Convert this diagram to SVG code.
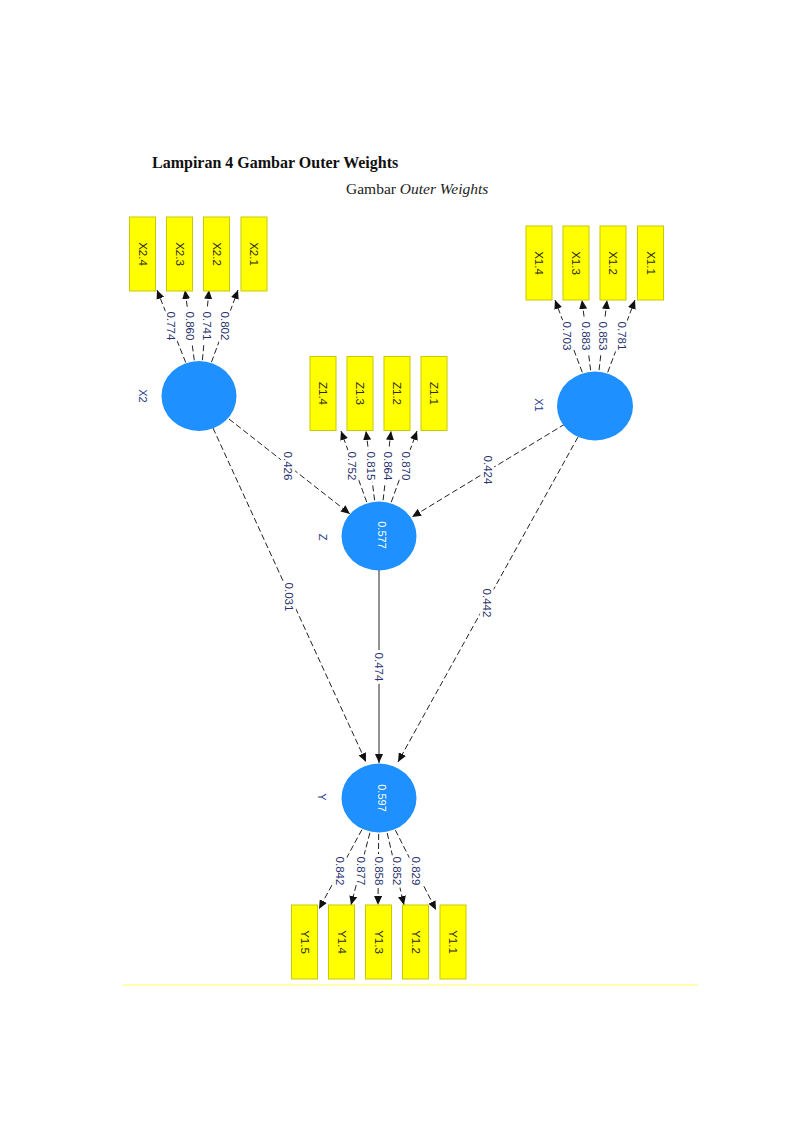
<svg xmlns="http://www.w3.org/2000/svg" width="800" height="1132" viewBox="0 0 800 1132">
<style>
.ind rect{fill:#ffff00;stroke:#c9c900;stroke-width:1}
.ind text{font-family:"Liberation Sans",Arial,sans-serif;font-size:11.5px;fill:#2a2a10;text-anchor:middle;dominant-baseline:central}
.lv ellipse{fill:#1e90ff}
.lv text.v{font-family:"Liberation Sans",Arial,sans-serif;font-size:11px;fill:#ffffff;text-anchor:middle;dominant-baseline:central}
.lv text.n{font-family:"Liberation Sans",Arial,sans-serif;font-size:11px;fill:#2b3a8c;text-anchor:middle;dominant-baseline:central}
.cn line{stroke:#222;stroke-width:1;stroke-dasharray:6,3;marker-end:url(#ah)}
.cn line.s{stroke-dasharray:none}
.cn text{font-family:"Liberation Sans",Arial,sans-serif;font-size:11.5px;fill:#28306e;text-anchor:middle;dominant-baseline:central;stroke:#fff;stroke-width:6;stroke-linejoin:round;paint-order:stroke}
.t1{font-family:"Liberation Serif","Times New Roman",serif;font-size:16px;font-weight:bold;fill:#111}
.t2{font-family:"Liberation Serif","Times New Roman",serif;font-size:15.5px;fill:#222}
</style>
<defs>
<marker id="ah" markerUnits="userSpaceOnUse" markerWidth="10" markerHeight="8" refX="9" refY="4" orient="auto">
<path d="M0,0 L9,4 L0,8 z" fill="#111"/>
</marker>
</defs>
<rect width="800" height="1132" fill="#fff"/>
<text class="t1" x="152" y="168">Lampiran 4 Gambar Outer Weights</text>
<text class="t2" x="346" y="194">Gambar <tspan font-style="italic">Outer Weights</tspan></text>
<line x1="123" y1="985" x2="698" y2="985" stroke="#ffffb0" stroke-width="2"/>

<g id="connectors" class="cn">
<line x1="199" y1="396" x2="157" y2="290"/>
<line x1="199" y1="396" x2="185" y2="290"/>
<line x1="199" y1="396" x2="209" y2="290"/>
<line x1="199" y1="396" x2="238" y2="290"/>
<line x1="595" y1="406" x2="555" y2="300"/>
<line x1="595" y1="406" x2="582" y2="300"/>
<line x1="595" y1="406" x2="607" y2="300"/>
<line x1="595" y1="406" x2="635" y2="300"/>
<line x1="379" y1="536" x2="341" y2="431"/>
<line x1="379" y1="536" x2="366" y2="431"/>
<line x1="379" y1="536" x2="391" y2="431"/>
<line x1="379" y1="536" x2="417" y2="431"/>
<line x1="379" y1="798" x2="319" y2="909"/>
<line x1="379" y1="798" x2="351" y2="905"/>
<line x1="379" y1="798" x2="378" y2="905"/>
<line x1="379" y1="798" x2="404" y2="905"/>
<line x1="379" y1="798" x2="436" y2="910"/>
<line x1="229" y1="419" x2="350" y2="514"/>
<line x1="565" y1="424" x2="412" y2="517"/>
<line x1="213" y1="428" x2="366" y2="762"/>
<line x1="578" y1="437" x2="398" y2="762"/>
<line class="s" x1="379" y1="570" x2="379" y2="763"/>
<text transform="translate(171,326) rotate(90)">0.774</text>
<text transform="translate(190,326) rotate(90)">0.860</text>
<text transform="translate(207,326) rotate(90)">0.741</text>
<text transform="translate(225,326) rotate(90)">0.802</text>
<text transform="translate(567,336) rotate(90)">0.703</text>
<text transform="translate(586,336) rotate(90)">0.883</text>
<text transform="translate(603,336) rotate(90)">0.853</text>
<text transform="translate(622,336) rotate(90)">0.781</text>
<text transform="translate(352,466) rotate(90)">0.752</text>
<text transform="translate(371,466) rotate(90)">0.815</text>
<text transform="translate(388,466) rotate(90)">0.864</text>
<text transform="translate(406,466) rotate(90)">0.870</text>
<text transform="translate(340,871) rotate(90)">0.842</text>
<text transform="translate(361,871) rotate(90)">0.877</text>
<text transform="translate(379,871) rotate(90)">0.858</text>
<text transform="translate(397,871) rotate(90)">0.852</text>
<text transform="translate(416,871) rotate(90)">0.829</text>
<text transform="translate(288,466) rotate(90)">0.426</text>
<text transform="translate(488,470) rotate(90)">0.424</text>
<text transform="translate(289,597) rotate(90)">0.031</text>
<text transform="translate(487,603) rotate(90)">0.442</text>
<text transform="translate(379,667) rotate(90)">0.474</text>
</g>

<g id="X2-indicators" class="ind">
<g id="X2.4"><rect x="129.5" y="217" width="26" height="74"/><text transform="translate(142.5,254) rotate(90)">X2.4</text></g>
<g id="X2.3"><rect x="166.5" y="217" width="26" height="74"/><text transform="translate(179.5,254) rotate(90)">X2.3</text></g>
<g id="X2.2"><rect x="203.5" y="217" width="26" height="74"/><text transform="translate(216.5,254) rotate(90)">X2.2</text></g>
<g id="X2.1"><rect x="241" y="217" width="26" height="74"/><text transform="translate(254,254) rotate(90)">X2.1</text></g>
</g>
<g id="X1-indicators" class="ind">
<g id="X1.4"><rect x="526" y="226" width="26" height="74"/><text transform="translate(539,263) rotate(90)">X1.4</text></g>
<g id="X1.3"><rect x="563" y="226" width="26" height="74"/><text transform="translate(576,263) rotate(90)">X1.3</text></g>
<g id="X1.2"><rect x="600" y="226" width="26" height="74"/><text transform="translate(613,263) rotate(90)">X1.2</text></g>
<g id="X1.1"><rect x="637.5" y="226" width="26" height="74"/><text transform="translate(650.5,263) rotate(90)">X1.1</text></g>
</g>
<g id="Z-indicators" class="ind">
<g id="Z1.4"><rect x="310" y="356.5" width="26" height="74"/><text transform="translate(323,393.5) rotate(90)">Z1.4</text></g>
<g id="Z1.3"><rect x="347" y="356.5" width="26" height="74"/><text transform="translate(360,393.5) rotate(90)">Z1.3</text></g>
<g id="Z1.2"><rect x="384" y="356.5" width="26" height="74"/><text transform="translate(397,393.5) rotate(90)">Z1.2</text></g>
<g id="Z1.1"><rect x="421" y="356.5" width="26" height="74"/><text transform="translate(434,393.5) rotate(90)">Z1.1</text></g>
</g>
<g id="Y-indicators" class="ind">
<g id="Y1.5"><rect x="291.5" y="905" width="26" height="74"/><text transform="translate(304.5,942) rotate(90)">Y1.5</text></g>
<g id="Y1.4"><rect x="328.5" y="905" width="26" height="74"/><text transform="translate(341.5,942) rotate(90)">Y1.4</text></g>
<g id="Y1.3"><rect x="365.5" y="905" width="26" height="74"/><text transform="translate(378.5,942) rotate(90)">Y1.3</text></g>
<g id="Y1.2"><rect x="402.5" y="905" width="26" height="74"/><text transform="translate(415.5,942) rotate(90)">Y1.2</text></g>
<g id="Y1.1"><rect x="440" y="905" width="26" height="74"/><text transform="translate(453,942) rotate(90)">Y1.1</text></g>
</g>

<g id="X2" class="lv"><ellipse cx="199" cy="396" rx="37.5" ry="35"/><text class="n" transform="translate(143,396) rotate(90)">X2</text></g>
<g id="X1" class="lv"><ellipse cx="595" cy="406" rx="38" ry="34.5"/><text class="n" transform="translate(539,405) rotate(90)">X1</text></g>
<g id="Z" class="lv"><ellipse cx="379" cy="536" rx="37.5" ry="34.5"/><text class="v" transform="translate(382,535) rotate(90)">0.577</text><text class="n" transform="translate(323,537) rotate(90)">Z</text></g>
<g id="Y" class="lv"><ellipse cx="379" cy="798" rx="37.5" ry="34.5"/><text class="v" transform="translate(382,798) rotate(90)">0.597</text><text class="n" transform="translate(322,797) rotate(90)">Y</text></g>
</svg>
